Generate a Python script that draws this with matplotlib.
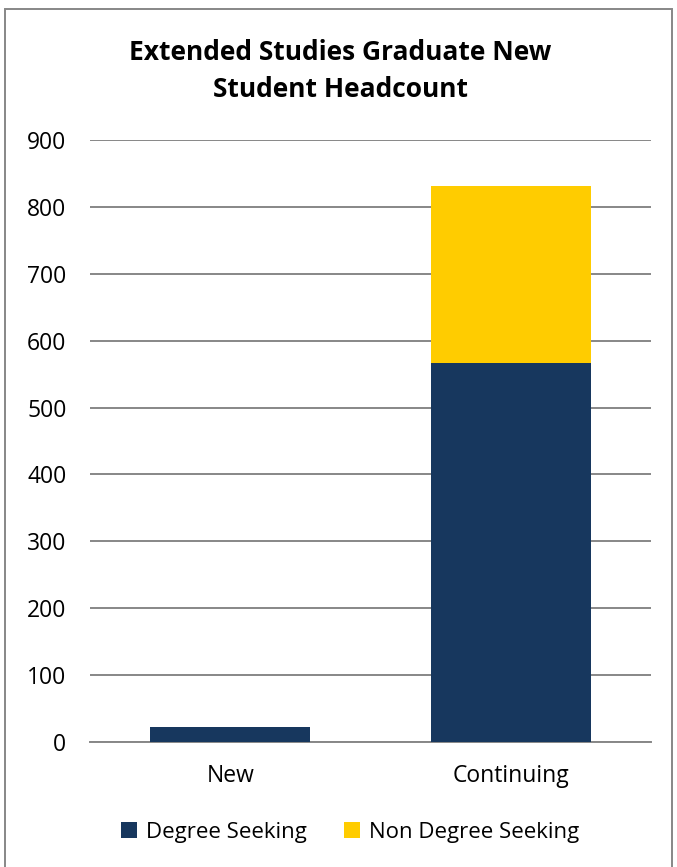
import matplotlib.pyplot as plt
import numpy as np
from matplotlib.patches import Rectangle

# data
categories = ['New', 'Continuing']
degree_seeking = [22, 567]
non_degree_seeking = [0, 265]
yticks = [0, 100, 200, 300, 400, 500, 600, 700, 800, 900]

plt.rcParams['font.family'] = ['Open Sans', 'DejaVu Sans']

fig = plt.figure(figsize=(6.77, 8.67), dpi=100)
ax = fig.add_axes([0.133, 0.1442, 0.8286, 0.6943])

x = np.arange(len(categories))
ax.bar(x, degree_seeking, width=0.57, color='#17375e', label='Degree Seeking', zorder=3)
ax.bar(x, non_degree_seeking, width=0.57, bottom=degree_seeking, color='#ffcc00',
       label='Non Degree Seeking', zorder=3)

ax.set_xlim(-0.5, 1.5)
ax.set_ylim(0, 900)
ax.set_yticks(yticks)
ax.set_xticks(x)
ax.set_xticklabels(categories)
ax.tick_params(axis='both', labelsize=16.5, length=0, colors='black')
ax.tick_params(axis='y', pad=17)
ax.tick_params(axis='x', pad=16)
ax.yaxis.grid(True, color='#878787', linewidth=1.4, zorder=0)
for s in ['top', 'right', 'left']:
    ax.spines[s].set_visible(False)
ax.spines['bottom'].set_color('#878787')
ax.spines['bottom'].set_linewidth(1.4)

fig.text(0.503, 0.918, 'Extended Studies Graduate New\nStudent Headcount', ha='center', va='center',
         fontsize=19, fontweight='bold', linespacing=1.45)

fig.legend(loc='center', bbox_to_anchor=(0.517, 0.04), ncol=2, frameon=False, fontsize=16,
           handlelength=0.7, handleheight=0.7, columnspacing=1.7, handletextpad=0.4)

# outer border
fig.patches.append(Rectangle((0.007, -0.01), 0.985, 1.0, transform=fig.transFigure,
                             fill=False, edgecolor='#878787', linewidth=1.4))

fig.savefig('out.png', dpi=100)
